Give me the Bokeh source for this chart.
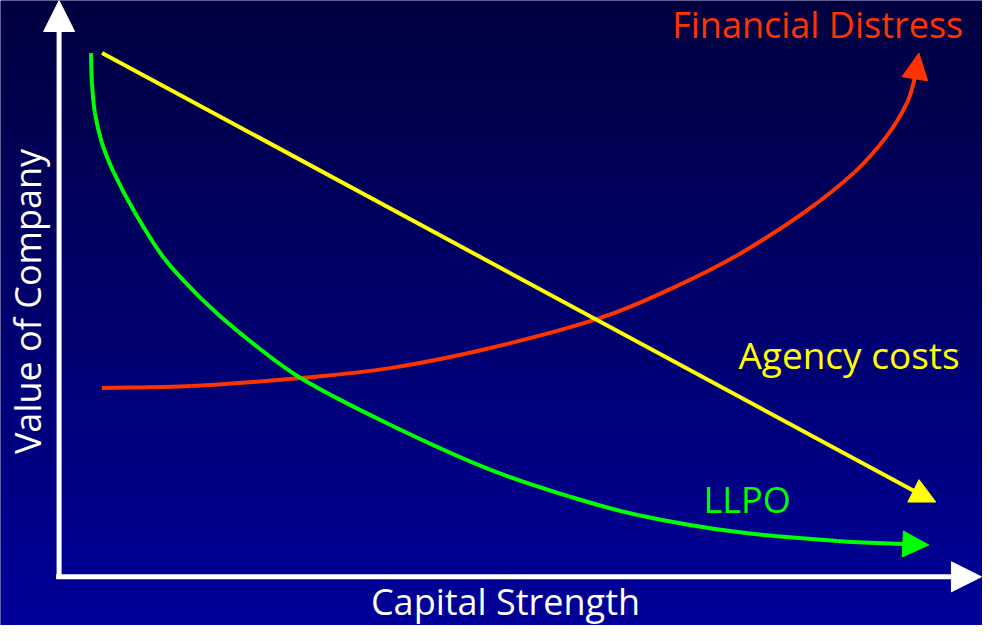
import numpy as np
from bokeh.plotting import figure
from bokeh.models import Range1d, Arrow, NormalHead
from bokeh.core.properties import value
from bokeh.embed import file_html
from bokeh.resources import INLINE

# ---- data (arbitrary 0-100 units) ----
agency_x = [4.8, 96.1, 98.0]
agency_y = [92.5, 14.7, 13.2]

llpo_x = [3.56, 3.67, 4.0, 4.78, 6.11, 8.44, 11.78, 15.89, 20.0, 27.0, 37.0, 48.11, 57.0, 64.78, 75.89, 87.0, 94.44, 97.22]
llpo_y = [92.46, 87.19, 81.93, 76.67, 71.40, 64.39, 56.14, 49.12, 43.33, 35.09, 26.84, 18.95, 14.20, 10.88, 7.89, 6.32, 5.79, 5.61]

distress_x = [4.78, 14.78, 27.0, 37.0, 48.11, 60.33, 68.44, 75.89, 83.33, 88.89, 92.56, 94.78, 95.67, 96.11]
distress_y = [33.33, 33.68, 35.09, 36.84, 40.35, 45.61, 50.88, 56.84, 64.39, 71.40, 77.89, 83.68, 88.07, 92.46]

series_labels = ["Financial Distress", "Agency costs", "LLPO"]
x_title = "Capital Strength"
y_title = "Value of Company"

X0, X1 = -6.55, 103.22
Y0, Y1 = -8.6, 101.75

p = figure(width=982, height=625, output_backend="svg", toolbar_location=None,
           x_range=Range1d(X0, X1), y_range=Range1d(Y0, Y1),
           x_axis_type=None, y_axis_type=None, min_border=0)
p.grid.visible = False
p.outline_line_color = None
p.background_fill_color = "#000070"
p.border_fill_color = "#000070"

# background gradient (dark navy at top to blue at bottom)
N = 256
img = np.empty((N, 1), dtype=np.uint32)
view = img.view(dtype=np.uint8).reshape((N, 1, 4))
view[:, :, 0] = 0
view[:, :, 1] = 0
view[:, :, 2] = np.linspace(0x9A, 0x40, N).astype(np.uint8)[:, None]
view[:, :, 3] = 255
p.image_rgba(image=[img], x=X0, y=Y0, dw=X1 - X0, dh=Y1 - Y0)

FONT = value("Open Sans")

# axes
p.line([0, 0], [-0.35, 96.3], line_color="white", line_width=5)
p.add_layout(Arrow(x_start=0, y_start=96.0, x_end=0, y_end=101.75, line_alpha=0,
                   end=NormalHead(size=31, fill_color="white", line_color="white", line_width=1)))
p.line([-0.33, 99.8], [0, 0], line_color="white", line_width=5)
p.add_layout(Arrow(x_start=99.5, y_start=0, x_end=103.1, y_end=0, line_alpha=0,
                   end=NormalHead(size=30, fill_color="white", line_color="white", line_width=1)))


def smooth_curve(xs, ys, color):
    """Draw a smooth (Catmull-Rom as cubic Bezier) curve through the given points."""
    xs = np.asarray(xs, float)
    ys = np.asarray(ys, float)
    n = len(xs)
    px = np.concatenate([[2 * xs[0] - xs[1]], xs, [2 * xs[-1] - xs[-2]]])
    py = np.concatenate([[2 * ys[0] - ys[1]], ys, [2 * ys[-1] - ys[-2]]])
    i = np.arange(n - 1)
    p0x, p1x, p2x, p3x = px[i], px[i + 1], px[i + 2], px[i + 3]
    p0y, p1y, p2y, p3y = py[i], py[i + 1], py[i + 2], py[i + 3]
    p.bezier(x0=p1x, y0=p1y, x1=p2x, y1=p2y,
             cx0=p1x + (p2x - p0x) / 6, cy0=p1y + (p2y - p0y) / 6,
             cx1=p2x - (p3x - p1x) / 6, cy1=p2y - (p3y - p1y) / 6,
             line_color=color, line_width=4)


def curve(xs, ys, color, size, smooth=True):
    if smooth:
        smooth_curve(xs[:-1], ys[:-1], color)
    else:
        p.line(xs[:-1], ys[:-1], line_color=color, line_width=4)
    p.add_layout(Arrow(x_start=xs[-2], y_start=ys[-2], x_end=xs[-1], y_end=ys[-1], line_alpha=0,
                       end=NormalHead(size=size, fill_color=color, line_color=color, line_width=1)))


curve(distress_x, distress_y, "#FF3300", 26)
curve(agency_x, agency_y, "#FFFF00", 25, smooth=False)
curve(llpo_x, llpo_y, "#00FF00", 26)

# labels
p.text(x=[84.8], y=[97.5], text=[series_labels[0]], text_color="#FF3300", text_font=FONT,
       text_font_size="36px", text_align="center", text_baseline="alphabetic")
p.text(x=[88.3], y=[39.25], text=[series_labels[1]], text_color="#FFFF00", text_font=FONT,
       text_font_size="37px", text_align="center", text_baseline="alphabetic")
p.text(x=[76.9], y=[13.65], text=[series_labels[2]], text_color="#00FF00", text_font=FONT,
       text_font_size="36px", text_align="center", text_baseline="alphabetic")
p.text(x=[49.9], y=[-4.3], text=[x_title], text_color="white", text_font=FONT,
       text_font_size="36px", text_align="center", text_baseline="alphabetic")
p.text(x=[-3.5], y=[48.6], text=[y_title], text_color="white", text_font=FONT,
       text_font_size="36px", text_align="center", text_baseline="alphabetic", angle=np.pi / 2)

open("out.html", "w").write(file_html(p, INLINE))
